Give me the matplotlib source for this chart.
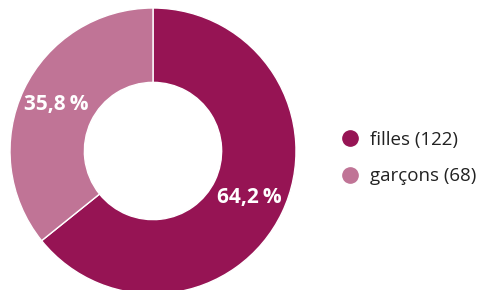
import matplotlib
matplotlib.use("Agg")
import matplotlib.pyplot as plt
from matplotlib.lines import Line2D
import numpy as np

categories = ["filles (122)", "garçons (68)"]
values = [122, 68]
pct_labels = ["64,2\u2009%", "35,8\u2009%"]
colors = ["#961454", "#C07496"]

plt.rcParams['font.family'] = ['Open Sans', 'DejaVu Sans']

fig = plt.figure(figsize=(4.9, 2.9), dpi=100)
ax = fig.add_axes([10/490, (139-143)/290, 286/490, 286/290])
wedges, _ = ax.pie(values, colors=colors, startangle=90, counterclock=False,
                   radius=1, wedgeprops=dict(width=0.52, edgecolor='white', linewidth=1))
ax.set_xlim(-1, 1)
ax.set_ylim(-1, 1)
ax.set_aspect('equal')
ax.axis('off')

total = sum(values)
start = 90.0
for v, lab in zip(values, pct_labels):
    span = v / total * 360
    mid = np.deg2rad(start - span / 2)
    start -= span
    r = 0.75
    ax.text(r*np.cos(mid), r*np.sin(mid), lab, ha='center', va='center',
            color='white', fontsize=15, fontweight='bold')

handles = [Line2D([0], [0], marker='o', color='none', markerfacecolor=c,
                  markeredgecolor=c, markersize=11) for c in colors]
fig.legend(handles, categories, loc='center left', bbox_to_anchor=(322/490, 1-158/290),
           frameon=False, fontsize=13.5, handletextpad=0.45, labelspacing=1.0,
           handlelength=1.2, labelcolor='#222222')

fig.savefig("out.png", dpi=100)
